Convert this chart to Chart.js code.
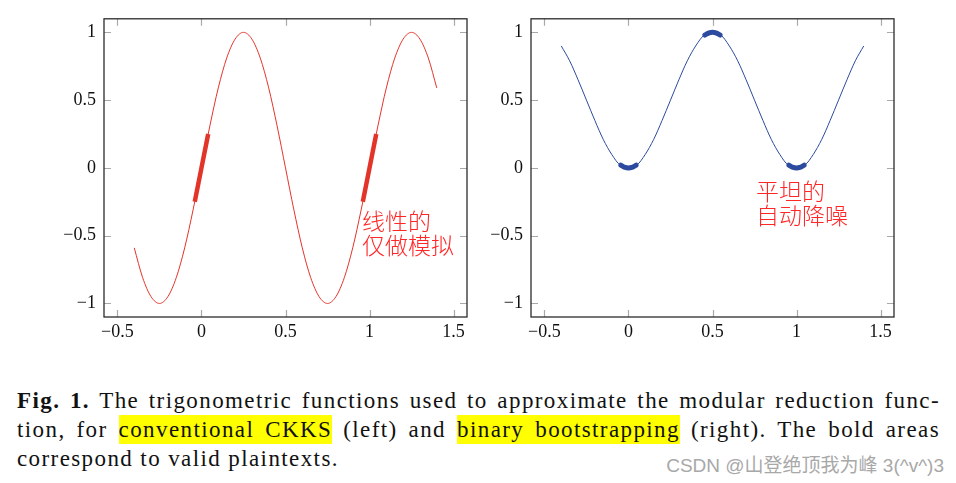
<!DOCTYPE html>
<html lang="zh">
<head>
<meta charset="UTF-8">
<title>Trigonometric functions</title>
<script src="https://cdn.jsdelivr.net/npm/chart.js"></script>
<style>
    body { margin: 0; background: #fff; width: 956px; height: 483px; overflow: hidden; position: relative; }
    .plot { position: absolute; top: 0; width: 478px; height: 345px; }
    .note { position: absolute; color: #ff2626; font-family: "Noto Sans CJK SC", sans-serif; font-weight: 300; font-size: 23px; line-height: 24px; white-space: pre; }
    .caption { position: absolute; left: 17px; top: 386px; width: 923px; font-family: "Liberation Serif", serif; font-size: 23px; line-height: 29px; color: #111; letter-spacing: 1.4px; }
    .caption .line { white-space: nowrap; text-align: justify; text-align-last: justify; }
    .caption .line.last { text-align-last: left; }
    .hl { background: #ffff00; padding: 2px 0; }
    .mark { position: absolute; right: 12px; top: 450px; font-family: "Liberation Sans", "Noto Sans CJK SC", sans-serif; font-size: 19px; color: #a8a8a8; }
</style>
</head>
<body>
<div class="plot" style="left:0"><canvas id="leftChart"></canvas></div>
<div class="plot" style="left:478px"><canvas id="rightChart"></canvas></div>
<div class="note" style="left:362px; top:208px">线性的
仅做模拟</div>
<div class="note" style="left:756px; top:178px">平坦的
自动降噪</div>
<div class="caption">
    <div class="line"><b>Fig. 1.</b> The trigonometric functions used to approximate the modular reduction func-</div>
    <div class="line">tion, for <span class="hl">conventional CKKS</span> (left) and <span class="hl">binary bootstrapping</span> (right). The bold areas</div>
    <div class="line last">correspond to valid plaintexts.</div>
</div>
<div class="mark">CSDN @山登绝顶我为峰 3(^v^)3</div>
<script>
// values, x step 0.05 from -0.4 to 1.4
const xs = [-0.4, -0.35, -0.3, -0.25, -0.2, -0.15, -0.1, -0.05, 0, 0.05, 0.1, 0.15, 0.2, 0.25, 0.3, 0.35, 0.4, 0.45, 0.5,
            0.55, 0.6, 0.65, 0.7, 0.75, 0.8, 0.85, 0.9, 0.95, 1, 1.05, 1.1, 1.15, 1.2, 1.25, 1.3, 1.35, 1.4];
const leftCurve = [-0.59, -0.81, -0.95, -1, -0.95, -0.81, -0.59, -0.31, 0, 0.31, 0.59, 0.81, 0.95, 1, 0.95, 0.81, 0.59, 0.31, 0,
                   -0.31, -0.59, -0.81, -0.95, -1, -0.95, -0.81, -0.59, -0.31, 0, 0.31, 0.59, 0.81, 0.95, 1, 0.95, 0.81, 0.59];
const rightCurve = [0.9, 0.79, 0.65, 0.5, 0.35, 0.21, 0.1, 0.02, 0, 0.02, 0.1, 0.21, 0.35, 0.5, 0.65, 0.79, 0.9, 0.98, 1,
                    0.98, 0.9, 0.79, 0.65, 0.5, 0.35, 0.21, 0.1, 0.02, 0, 0.02, 0.1, 0.21, 0.35, 0.5, 0.65, 0.79, 0.9];

// bold parts
const leftBoldX = [-0.04, 0, 0.04];
const leftBoldY = [-0.25, 0, 0.25];
const leftBold2X = [0.96, 1, 1.04];
const rightBoldX = [-0.045, -0.02, 0, 0.02, 0.045];
const rightBoldY = [0.02, 0.004, 0, 0.004, 0.02];
const rightBold2X = [0.455, 0.48, 0.5, 0.52, 0.545];
const rightBold2Y = [0.98, 0.996, 1, 0.996, 0.98];
const rightBold3X = [0.955, 0.98, 1, 1.02, 1.045];

const xTicks = [-0.5, 0, 0.5, 1, 1.5];
const yTicks = [-1, -0.5, 0, 0.5, 1];
const xRange = [-0.58, 1.58];
const yRange = [-1.1, 1.1];

const pts = (xa, ya) => xa.map((x, i) => ({ x: x, y: ya[i] }));
const fmt = v => (v < 0 ? '\u2212' + Math.abs(v) : String(v));

// inward ticks on all four sides + black frame
const framePlugin = {
    id: 'frame',
    afterDatasetsDraw(chart) {
        const { ctx, chartArea: a, scales } = chart;
        ctx.save();
        ctx.strokeStyle = '#a9a9a9';
        ctx.lineWidth = 1.2;
        ctx.beginPath();
        xTicks.forEach(v => {
            const px = Math.round(scales.x.getPixelForValue(v)) + 0.5;
            ctx.moveTo(px, a.top); ctx.lineTo(px, a.top + 7);
            ctx.moveTo(px, a.bottom); ctx.lineTo(px, a.bottom - 7);
        });
        yTicks.forEach(v => {
            const py = Math.round(scales.y.getPixelForValue(v)) + 0.5;
            ctx.moveTo(a.left, py); ctx.lineTo(a.left + 7, py);
            ctx.moveTo(a.right, py); ctx.lineTo(a.right - 7, py);
        });
        ctx.stroke();
        ctx.strokeStyle = '#2b2b2b';
        ctx.lineWidth = 1.3;
        ctx.strokeRect(a.left, a.top, a.right - a.left, a.bottom - a.top);
        ctx.restore();
    }
};

function makeChart(id, datasets, yWidth, rightPad) {
    return new Chart(document.getElementById(id), {
        type: 'scatter',
        data: { datasets: datasets },
        options: {
            responsive: false,
            animation: false,
            layout: { padding: { top: 16, right: rightPad, left: 0, bottom: 0 } },
            plugins: { legend: { display: false }, tooltip: { enabled: false } },
            elements: { point: { radius: 0 } },
            scales: {
                x: {
                    type: 'linear', min: xRange[0], max: xRange[1],
                    afterBuildTicks: s => { s.ticks = xTicks.map(v => ({ value: v })); },
                    afterFit: s => { s.height = 28; },
                    grid: { display: false, drawTicks: false },
                    border: { display: false },
                    ticks: { padding: 4, color: '#111', maxRotation: 0, font: { family: 'Liberation Serif', size: 18 }, callback: v => fmt(v) }
                },
                y: {
                    type: 'linear', min: yRange[0], max: yRange[1],
                    afterBuildTicks: s => { s.ticks = yTicks.map(v => ({ value: v })); },
                    afterFit: s => { s.width = yWidth; },
                    grid: { display: false, drawTicks: false },
                    border: { display: false },
                    ticks: { padding: 8, color: '#111', font: { family: 'Liberation Serif', size: 18 }, callback: v => fmt(v) }
                }
            }
        },
        plugins: [framePlugin]
    });
}

function setSize(id) {
    const c = document.getElementById(id);
    c.width = 478; c.height = 345;
    c.style.width = '478px'; c.style.height = '345px';
}
setSize('leftChart');
setSize('rightChart');

const red = '#e3342a';
const blue = '#2c4a9e';

makeChart('leftChart', [
    { data: pts(xs, leftCurve), showLine: true, borderColor: red, borderWidth: 1, cubicInterpolationMode: 'monotone' },
    { data: pts(leftBoldX, leftBoldY), showLine: true, borderColor: red, borderWidth: 4.5, borderCapStyle: 'butt' },
    { data: pts(leftBold2X, leftBoldY), showLine: true, borderColor: red, borderWidth: 4.5, borderCapStyle: 'butt' }
], 104, 11);

makeChart('rightChart', [
    { data: pts(xs, rightCurve), showLine: true, borderColor: blue, borderWidth: 1, cubicInterpolationMode: 'monotone' },
    { data: pts(rightBoldX, rightBoldY), showLine: true, borderColor: blue, borderWidth: 5, borderCapStyle: 'round', tension: 0.4 },
    { data: pts(rightBold2X, rightBold2Y), showLine: true, borderColor: blue, borderWidth: 5, borderCapStyle: 'round', tension: 0.4 },
    { data: pts(rightBold3X, rightBoldY), showLine: true, borderColor: blue, borderWidth: 5, borderCapStyle: 'round', tension: 0.4 }
], 53, 62);
</script>
</body>
</html>
